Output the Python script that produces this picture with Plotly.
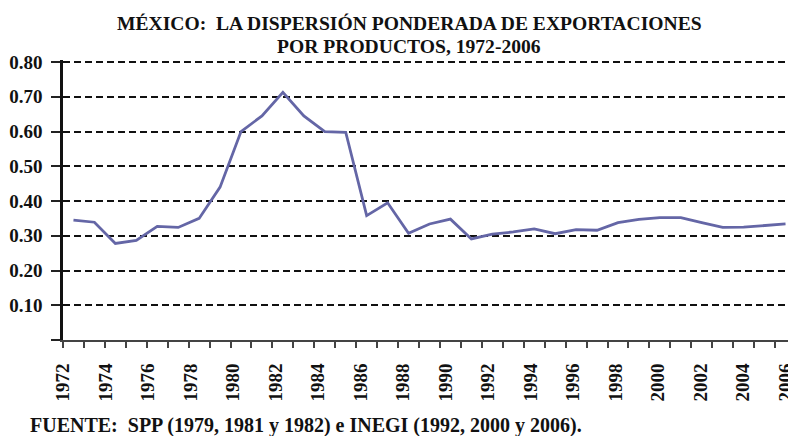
import plotly.graph_objects as go

years = list(range(1972, 2007))
dispersion = [0.345, 0.339, 0.278, 0.287, 0.327, 0.324, 0.350, 0.440, 0.600, 0.645,
              0.713, 0.645, 0.600, 0.598, 0.358, 0.395, 0.307, 0.334, 0.348, 0.291,
              0.305, 0.311, 0.320, 0.306, 0.318, 0.316, 0.338, 0.347, 0.352, 0.352,
              0.338, 0.324, 0.325, 0.329, 0.334]
label_years = list(range(1972, 2007, 2))
y_ticks = [0.0, 0.1, 0.2, 0.3, 0.4, 0.5, 0.6, 0.7, 0.8]
y_labels = ["", "0.10", "0.20", "0.30", "0.40", "0.50", "0.60", "0.70", "0.80"]

title_line1 = "MÉXICO:  LA DISPERSIÓN PONDERADA DE EXPORTACIONES"
title_line2 = "POR PRODUCTOS, 1972-2006"
source_text = "FUENTE:  SPP (1979, 1981 y 1982) e INEGI (1992, 2000 y 2006)."

# page body has an 8px margin; figure sized to fill the rest of the window
W, H = 788, 428
L, R, T, B = 55, 0, 52, 96
y_top = 0.806
px_per_year = 21.0
x_lo = years[0] - 0.5
x_hi = x_lo + (W - L - R) / px_per_year
plot_h = H - T - B
plot_w = W - L - R


def px_x(px):
    return (px - L) / plot_w


def px_y(py):
    return (H - B - py) / plot_h


# label positions drift slightly within the category, as in the source chart
label_pos = [y - 0.5 + (y - years[0]) / 68 for y in label_years]

serif = "Liberation Serif"
title_font = dict(family=serif, size=19.6, color="#111", weight="bold")

fig = go.Figure()
fig.add_trace(go.Scatter(
    x=years, y=dispersion, mode="lines",
    line=dict(color="#6466a6", width=2.8),
    hoverinfo="x+y", showlegend=False,
))

fig.update_layout(
    width=W, height=H,
    margin=dict(l=L, r=R, t=T, b=B),
    paper_bgcolor="white", plot_bgcolor="white",
    xaxis=dict(
        range=[x_lo, x_hi], showgrid=False, zeroline=False,
        showline=True, linecolor="#444", linewidth=2,
        tickmode="array", tickvals=label_pos, ticktext=[str(y) for y in label_years],
        ticks="", tickangle=-90, ticklabelstandoff=14, ticklabeloverflow="allow",
        tickfont=dict(family=serif, size=19, color="#111", weight="bold"),
        minor=dict(tick0=x_lo, dtick=1, ticks="outside", ticklen=6, tickwidth=2,
                   tickcolor="#444", showgrid=False),
    ),
    yaxis=dict(
        range=[0, y_top], zeroline=False,
        showline=True, linecolor="#111", linewidth=2.5,
        tickmode="array", tickvals=y_ticks, ticktext=y_labels,
        ticks="outside", ticklen=9, tickwidth=2, tickcolor="#222",
        ticklabelstandoff=5,
        tickfont=dict(family=serif, size=19, color="#111", weight="bold"),
        showgrid=True, gridcolor="#111", gridwidth=2.4, griddash="7px,4px",
    ),
    annotations=[
        dict(text=title_line1, xref="paper", yref="paper", x=px_x(402), y=px_y(15),
             xanchor="center", yanchor="middle", showarrow=False, font=title_font),
        dict(text=title_line2, xref="paper", yref="paper", x=px_x(402), y=px_y(39),
             xanchor="center", yanchor="middle", showarrow=False, font=title_font),
        dict(text=source_text, xref="paper", yref="paper", x=px_x(20), y=px_y(417),
             xanchor="left", yanchor="middle", showarrow=False,
             font=dict(family=serif, size=20, color="#111", weight="bold")),
    ],
)

fig.write_html("out.html")
